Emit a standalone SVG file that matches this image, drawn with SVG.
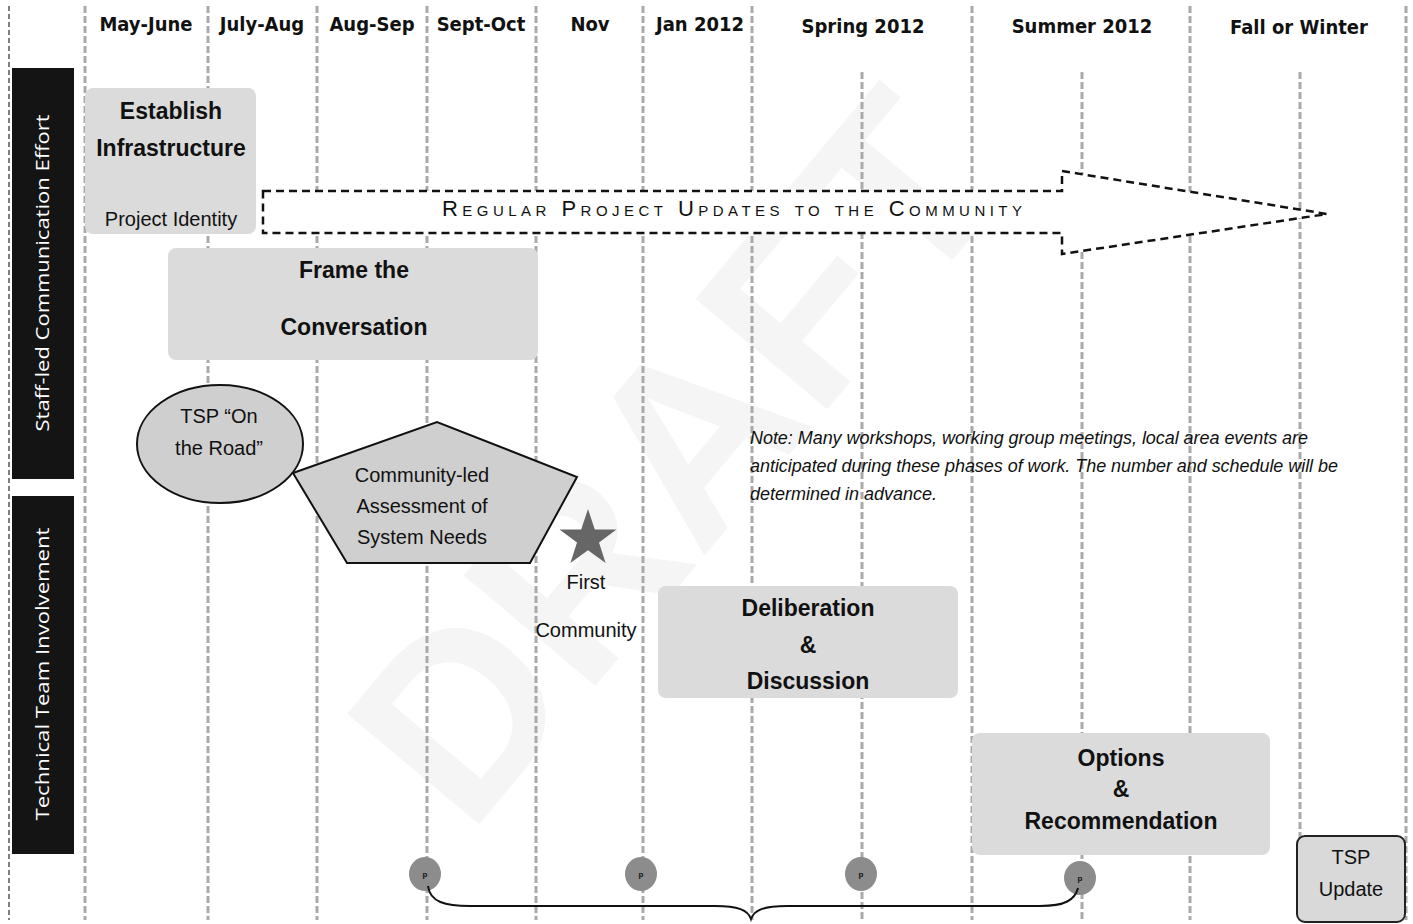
<svg xmlns="http://www.w3.org/2000/svg" width="1413" height="924" viewBox="0 0 1413 924">
  <style>
    .grid { stroke: #a9a9a9; stroke-width: 3; stroke-dasharray: 7 3; fill: none; }
    .hdr { font-family: "DejaVu Sans Condensed", "DejaVu Sans", sans-serif; font-weight: bold; font-size: 20px; fill: #111; text-anchor: middle; }
    .side { font-family: "Open Sans", "DejaVu Sans", sans-serif; font-size: 19px; fill: #fff; text-anchor: middle; }
    .phase { fill: #dbdbdb; }
    .big { font-family: "Liberation Sans", Arial, sans-serif; font-weight: bold; font-size: 23px; fill: #111; text-anchor: middle; }
    .reg { font-family: "Liberation Sans", Arial, sans-serif; font-size: 20px; fill: #111; text-anchor: middle; }
    .shape { fill: #cfcfcf; stroke: #111; stroke-width: 2; }
    .note { font-family: "Liberation Sans", Arial, sans-serif; font-style: italic; font-size: 18px; fill: #111; }
    .dot { fill: #8c8c8c; }
    .dotmark { font-family: "Liberation Sans", Arial, sans-serif; font-weight: bold; font-size: 8px; fill: #111; text-anchor: middle; }
    .conn { fill: none; stroke: #111; stroke-width: 2; }
  </style>

  <rect x="0" y="0" width="1413" height="924" fill="#ffffff"/>

  <!-- faint watermark -->
  <text x="0" y="0" transform="translate(690 470) rotate(-50)" font-family="Liberation Sans, Arial, sans-serif" font-weight="bold" font-size="250" text-anchor="middle" dominant-baseline="middle" fill="#f5f5f5">DRAFT</text>

  <!-- month grid -->
  <g id="grid">
    <line class="grid" x1="85" y1="6" x2="85" y2="920"/>
    <line class="grid" x1="208" y1="6" x2="208" y2="920"/>
    <line class="grid" x1="317" y1="6" x2="317" y2="920"/>
    <line class="grid" x1="427" y1="6" x2="427" y2="920"/>
    <line class="grid" x1="536" y1="6" x2="536" y2="920"/>
    <line class="grid" x1="643" y1="6" x2="643" y2="920"/>
    <line class="grid" x1="752" y1="6" x2="752" y2="920"/>
    <line class="grid" x1="862" y1="72" x2="862" y2="920"/>
    <line class="grid" x1="972" y1="6" x2="972" y2="920"/>
    <line class="grid" x1="1082" y1="72" x2="1082" y2="920"/>
    <line class="grid" x1="1190" y1="6" x2="1190" y2="920"/>
    <line class="grid" x1="1300" y1="72" x2="1300" y2="920"/>
    <line class="grid" x1="1406" y1="6" x2="1406" y2="920"/>
    <line x1="9" y1="6" x2="9" y2="920" stroke="#555" stroke-width="1.5" stroke-dasharray="5 3"/>
  </g>

  <!-- column headings -->
  <g id="headings">
    <text class="hdr" x="146" y="31">May-June</text>
    <text class="hdr" x="262" y="31">July-Aug</text>
    <text class="hdr" x="372" y="31">Aug-Sep</text>
    <text class="hdr" x="481" y="31">Sept-Oct</text>
    <text class="hdr" x="590" y="31">Nov</text>
    <text class="hdr" x="700" y="31">Jan 2012</text>
    <text class="hdr" x="863" y="33">Spring 2012</text>
    <text class="hdr" x="1082" y="33">Summer 2012</text>
    <text class="hdr" x="1299" y="34">Fall or Winter</text>
  </g>

  <!-- swimlane labels -->
  <g id="lane-staff">
    <rect x="12" y="68" width="62" height="411" fill="#141414"/>
    <text class="side" transform="translate(49 273) rotate(-90)" textLength="317" lengthAdjust="spacingAndGlyphs">Staff-led Communication Effort</text>
  </g>
  <g id="lane-technical">
    <rect x="12" y="496" width="62" height="358" fill="#141414"/>
    <text class="side" transform="translate(49 674) rotate(-90)" textLength="293" lengthAdjust="spacingAndGlyphs">Technical Team Involvement</text>
  </g>

  <!-- phases -->
  <g id="establish-infrastructure">
    <rect class="phase" x="85" y="88" width="171" height="146" rx="8"/>
    <text class="big" x="171" y="119">Establish</text>
    <text class="big" x="171" y="156">Infrastructure</text>
    <text class="reg" x="171" y="226" font-size="19">Project Identity</text>
  </g>

  <g id="regular-updates">
    <path d="M263 191 L1062 191 L1062 171 L1327 214 L1062 254 L1062 233 L263 233 Z" fill="#fff" stroke="#111" stroke-width="2.5" stroke-dasharray="8 5"/>
    <text x="732" y="216" font-family="Liberation Sans, Arial, sans-serif" font-size="22" font-variant="small-caps" fill="#111" text-anchor="middle" textLength="580" lengthAdjust="spacing">Regular Project Updates to the Community</text>
  </g>

  <g id="frame-conversation">
    <rect class="phase" x="168" y="248" width="370" height="112" rx="8"/>
    <text class="big" x="354" y="278">Frame the</text>
    <text class="big" x="354" y="335">Conversation</text>
  </g>

  <g id="tsp-on-the-road">
    <ellipse class="shape" cx="220" cy="444" rx="83" ry="59"/>
    <text class="reg" x="219" y="423">TSP “On</text>
    <text class="reg" x="219" y="455">the Road”</text>
  </g>

  <g id="community-assessment">
    <polygon class="shape" points="293,473 437,422 577,477 530,563 347,563"/>
    <text class="reg" x="422" y="482">Community-led</text>
    <text class="reg" x="422" y="513">Assessment of</text>
    <text class="reg" x="422" y="544">System Needs</text>
  </g>

  <g id="first-community">
    <polygon fill="#666666" points="588,509 594.8,529.6 616.5,529.6 599,542.4 605.6,563 588,550.3 570.4,563 577,542.4 559.5,529.6 581.2,529.6"/>
    <text class="reg" x="586" y="589" font-size="19">First</text>
    <text class="reg" x="586" y="637" font-size="19">Community</text>
  </g>

  <g id="note">
    <text class="note" x="750" y="444" textLength="558" lengthAdjust="spacing">Note: Many workshops, working group meetings, local area events are</text>
    <text class="note" x="750" y="472" textLength="588" lengthAdjust="spacing">anticipated during these phases of work. The number and schedule will be</text>
    <text class="note" x="750" y="500">determined in advance.</text>
  </g>

  <g id="deliberation">
    <rect class="phase" x="658" y="586" width="300" height="112" rx="8"/>
    <text class="big" x="808" y="616">Deliberation</text>
    <text class="big" x="808" y="653">&amp;</text>
    <text class="big" x="808" y="689">Discussion</text>
  </g>

  <g id="options">
    <rect class="phase" x="972" y="733" width="298" height="122" rx="8"/>
    <text class="big" x="1121" y="766">Options</text>
    <text class="big" x="1121" y="797">&amp;</text>
    <text class="big" x="1121" y="829">Recommendation</text>
  </g>

  <g id="tsp-update">
    <rect x="1297" y="836" width="108" height="86" rx="8" fill="#d9d9d9" stroke="#222" stroke-width="2"/>
    <text class="reg" x="1351" y="864">TSP</text>
    <text class="reg" x="1351" y="896">Update</text>
  </g>

  <!-- meeting markers -->
  <g id="markers">
    <ellipse class="dot" cx="425" cy="874" rx="16" ry="17"/>
    <text class="dotmark" x="425" y="877">p</text>
    <ellipse class="dot" cx="641" cy="874" rx="16" ry="17"/>
    <text class="dotmark" x="641" y="877">p</text>
    <ellipse class="dot" cx="861" cy="874" rx="16" ry="17"/>
    <text class="dotmark" x="861" y="877">p</text>
    <ellipse class="dot" cx="1080" cy="878" rx="16" ry="17"/>
    <text class="dotmark" x="1080" y="881">p</text>
  </g>

  <!-- brace grouping the markers -->
  <g id="connectors">
    <path class="conn" d="M428 886 C430 902 445 906 470 906 L715 906 C738 906 748 910 751 919 C754 910 764 906 787 906 L1040 906 C1065 906 1075 900 1078 888"/>
  </g>
</svg>
